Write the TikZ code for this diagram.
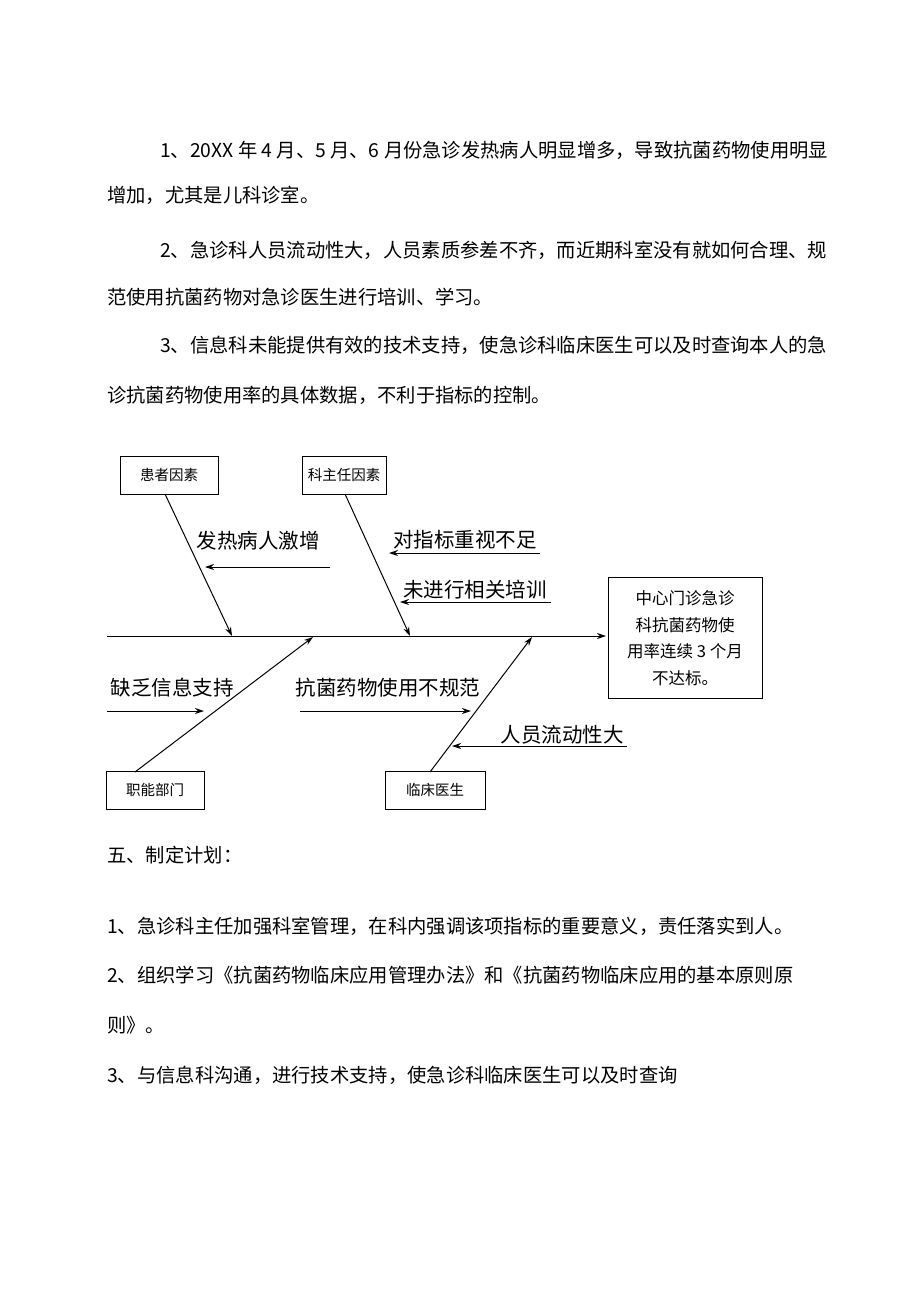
\documentclass[tikz,border=0pt]{standalone}
\usepackage{fontspec}
\setmainfont{Noto Sans CJK SC}
\usetikzlibrary{arrows.meta}
\begin{document}
\begin{tikzpicture}[x=1pt,y=-1pt,
  para/.style={anchor=west,inner sep=0pt,font=\fontsize{19.3}{22}\selectfont},
  lbl/.style={anchor=center,inner sep=0pt,font=\fontsize{20.5}{22}\selectfont},
  cbox/.style={draw,line width=0.8pt,minimum width=98pt,minimum height=38pt,inner sep=0pt,font=\fontsize{14.5}{16}\selectfont},
  bone/.style={line width=1pt,-{Stealth[length=9pt,width=6pt]}},
  sub/.style={line width=1pt,-{Stealth[length=9pt,width=6pt]}}]
\useasboundingbox[fill=white] (0,0) rectangle (920,1302);
\node[para] (p1) at (160,150) {1、20XX 年 4 月、5 月、6 月份急诊发热病人明显增多，导致抗菌药物使用明显};
\node[para] (p2) at (107,195) {增加，尤其是儿科诊室。};
\node[para] (p3) at (160,250) {2、急诊科人员流动性大，人员素质参差不齐，而近期科室没有就如何合理、规};
\node[para] (p4) at (107,297) {范使用抗菌药物对急诊医生进行培训、学习。};
\node[para] (p5) at (160,345) {3、信息科未能提供有效的技术支持，使急诊科临床医生可以及时查询本人的急};
\node[para] (p6) at (107,395) {诊抗菌药物使用率的具体数据，不利于指标的控制。};
\node[para] (p7) at (107,855) {五、制定计划：};
\node[para] (p8) at (107,926) {1、急诊科主任加强科室管理，在科内强调该项指标的重要意义，责任落实到人。};
\node[para] (p9) at (107,975) {2、组织学习《抗菌药物临床应用管理办法》和《抗菌药物临床应用的基本原则原};
\node[para] (p10) at (107,1025) {则》。};
\node[para] (p11) at (107,1075) {3、与信息科沟通，进行技术支持，使急诊科临床医生可以及时查询};
% boxes
\node[cbox] (hz) at (169,475) {患者因素};
\node[cbox,minimum width=84pt] (kzr) at (344,475) {科主任因素};
\node[cbox] (zn) at (155,790) {职能部门};
\node[cbox,minimum width=100pt] (lc) at (435,790) {临床医生};
\node[draw,line width=0.8pt,minimum width=154pt,minimum height=121pt,inner sep=0pt,align=center,
  font=\fontsize{16.5}{26.5}\selectfont] (res) at (685,638) {中心门诊急诊\\科抗菌药物使\\用率连续 3 个月\\不达标。};
% spine
\coordinate (s0) at (107,636);
\coordinate (s1) at (606,636);
\draw[bone] (s0) -- (s1);
\coordinate (a1) at (232,636);
\coordinate (a2) at (410,636);
\coordinate (a3) at (313,637);
\coordinate (a4) at (532,637);
\draw[bone] (165,494) -- (a1);
\draw[bone] (345,494) -- (a2);
\draw[bone] (135,772) -- (a3);
\draw[bone] (430,772) -- (a4);
% labels
\node[lbl] (l1) at (258,541) {发热病人激增};
\coordinate (l1a) at (330,567); \coordinate (l1b) at (205,567);
\draw[sub] (l1a) -- (l1b);
\node[lbl] (l2) at (465,540) {对指标重视不足};
\coordinate (l2a) at (540,553); \coordinate (l2b) at (389,553);
\draw[sub] (l2a) -- (l2b);
\node[lbl] (l3) at (475,590) {未进行相关培训};
\coordinate (l3a) at (551,602); \coordinate (l3b) at (400,602);
\draw[sub] (l3a) -- (l3b);
\node[lbl] (l4) at (172,688) {缺乏信息支持};
\coordinate (l4a) at (107,711); \coordinate (l4b) at (204,711);
\draw[sub] (l4a) -- (l4b);
\node[lbl] (l5) at (388,688) {抗菌药物使用不规范};
\coordinate (l5a) at (300,711); \coordinate (l5b) at (471,711);
\draw[sub] (l5a) -- (l5b);
\node[lbl] (l6) at (562,735) {人员流动性大};
\coordinate (l6a) at (627,746); \coordinate (l6b) at (452,746);
\draw[sub] (l6a) -- (l6b);
\end{tikzpicture}
\end{document}
